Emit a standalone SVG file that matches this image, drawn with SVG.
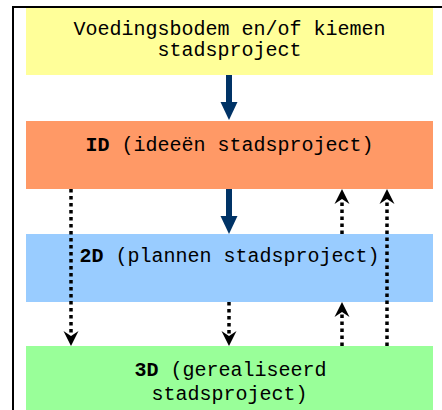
<svg xmlns="http://www.w3.org/2000/svg" width="442" height="410" viewBox="0 0 442 410">
<style>
.t{font-family:"Liberation Mono","Courier New",monospace;font-size:20px;fill:#000;text-anchor:middle}
.b{font-weight:bold}
.dot{stroke:#000;stroke-width:3.5;stroke-dasharray:3.5 3.5;fill:none}
.solid{stroke:#003366;stroke-width:6;fill:none}
</style>
<defs>
<path id="dh" d="M0,0 L-7.5,-15 L0,-10 L7.5,-15 Z" fill="#000"/>
<path id="uh" d="M0,0 L-7.5,15 L0,10 L7.5,15 Z" fill="#000"/>
<path id="sh" d="M0,0 L-8.5,-18 L8.5,-18 Z" fill="#003366"/>
</defs>
<rect width="442" height="410" fill="#fff"/>
<g id="frame" fill="#000">
<rect x="12" y="6" width="430" height="2"/>
<rect x="12" y="6" width="2" height="404"/>
</g>
<g id="n-voeding">
<rect x="26" y="8" width="407" height="67" fill="#FFFF99"/>
<text class="t" x="229.5" y="35">Voedingsbodem en/of kiemen</text>
<text class="t" x="229.5" y="56">stadsproject</text>
</g>
<g id="n-1d">
<rect x="26" y="121" width="407" height="68" fill="#FF9966"/>
<text class="t" x="229.5" y="151"><tspan class="b">ID</tspan> (ideeën stadsproject)</text>
</g>
<g id="n-2d">
<rect x="26" y="234" width="407" height="68" fill="#99CCFF"/>
<text class="t" x="229.5" y="262"><tspan class="b">2D</tspan> (plannen stadsproject)</text>
</g>
<g id="n-3d">
<rect x="26" y="346" width="407" height="64" fill="#99FF99"/>
<text class="t" x="230.5" y="376"><tspan class="b">3D</tspan> (gerealiseerd</text>
<text class="t" x="229.5" y="400">stadsproject)</text>
</g>
<g id="connectors">
<line class="solid" x1="229" y1="75" x2="229" y2="103"/>
<use href="#sh" x="229" y="120"/>
<line class="solid" x1="229" y1="189" x2="229" y2="217"/>
<use href="#sh" x="229" y="234"/>
<line class="dot" x1="71" y1="189" x2="71" y2="336"/>
<use href="#dh" x="71" y="346"/>
<line class="dot" x1="229" y1="302" x2="229" y2="336"/>
<use href="#dh" x="229" y="346"/>
<line class="dot" x1="342" y1="234" x2="342" y2="199"/>
<use href="#uh" x="342" y="189"/>
<line class="dot" x1="342" y1="346" x2="342" y2="312"/>
<use href="#uh" x="342" y="302"/>
<line class="dot" x1="387" y1="346" x2="387" y2="199"/>
<use href="#uh" x="387" y="189"/>
</g>
</svg>
